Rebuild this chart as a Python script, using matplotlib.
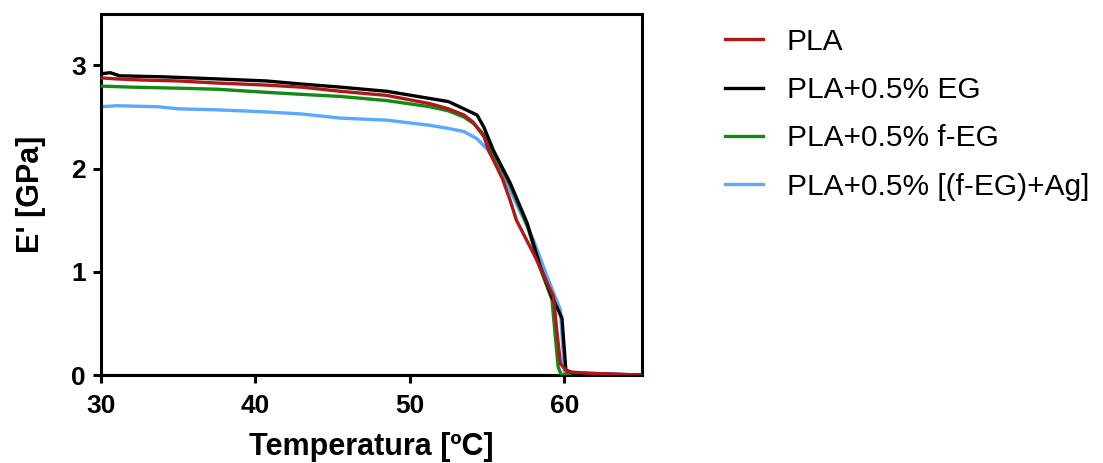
import matplotlib
matplotlib.use('Agg')
import matplotlib.pyplot as plt

plt.rcParams['font.family'] = ['Liberation Sans', 'DejaVu Sans']

# Storage modulus E' [GPa] vs temperature [ºC]
temp_pla = [30, 31, 32.5, 35, 37.5, 40.7, 43, 45.5, 48.5, 51.3, 52.5, 53.5, 54.1, 54.8, 55.1,
            56.0, 56.5, 56.9, 58.1, 59.3, 59.5, 59.75, 60.2, 62, 65]
e_pla = [2.88, 2.87, 2.86, 2.85, 2.83, 2.81, 2.79, 2.75, 2.71, 2.63, 2.58, 2.52, 2.45, 2.31, 2.18,
         1.90, 1.69, 1.50, 1.15, 0.76, 0.45, 0.11, 0.03, 0.015, 0.0]

temp_eg = [30, 30.6, 31.2, 34, 37.5, 40.7, 43, 45.5, 48.5, 51.3, 52.5, 53.5, 54.35, 54.8, 55.4,
           56.5, 57.6, 58.45, 59.2, 59.85, 60.1, 60.5, 62, 65]
e_eg = [2.92, 2.93, 2.90, 2.89, 2.87, 2.85, 2.82, 2.79, 2.75, 2.68, 2.65, 2.58, 2.52, 2.40, 2.18,
        1.86, 1.47, 1.05, 0.76, 0.55, 0.05, 0.02, 0.01, 0.0]

temp_feg = [30, 32, 35, 37.5, 40.7, 43, 45.5, 48.5, 51.3, 52.5, 53.5, 54.1, 54.8, 55.4,
            56.5, 57.6, 58.4, 59.2, 59.6, 59.8, 60.5, 65]
e_feg = [2.80, 2.79, 2.78, 2.77, 2.74, 2.72, 2.70, 2.66, 2.60, 2.56, 2.50, 2.44, 2.33, 2.15,
         1.84, 1.45, 1.05, 0.73, 0.08, 0.0, 0.01, 0.0]

temp_ag = [30, 31, 33.7, 35, 37.5, 40.7, 43, 45.5, 48.5, 51.3, 52.5, 53.5, 54.35, 55.0,
           56.0, 56.9, 58.0, 58.9, 59.75, 60.0, 61, 65]
e_ag = [2.60, 2.61, 2.60, 2.58, 2.57, 2.55, 2.53, 2.49, 2.47, 2.42, 2.39, 2.36, 2.29, 2.19,
        1.95, 1.66, 1.31, 0.95, 0.63, 0.03, 0.02, 0.0]

series = [
    ("PLA", temp_pla, e_pla, "#b01818", 5),
    ("PLA+0.5% EG", temp_eg, e_eg, "#000000", 4),
    ("PLA+0.5% f-EG", temp_feg, e_feg, "#138a13", 3),
    ("PLA+0.5% [(f-EG)+Ag]", temp_ag, e_ag, "#5aa8ff", 2),
]

fig = plt.figure(figsize=(11.03, 4.63), dpi=100)
ax = fig.add_axes([0.0916, 0.19, 0.490, 0.78])

for label, x, y, color, z in series:
    ax.plot(x, y, color=color, linewidth=2.4, label=label, zorder=z)

ax.set_xlim(30, 65)
ax.set_ylim(0, 3.5)
ax.set_xticks([30, 40, 50, 60])
ax.set_yticks([0, 1, 2, 3])

for s in ax.spines.values():
    s.set_linewidth(2.2)
ax.tick_params(direction='out', length=6, width=2.2, labelsize=19, pad=5)
ax.tick_params(axis='x', pad=8)
for lbl in ax.get_xticklabels() + ax.get_yticklabels():
    lbl.set_fontweight('bold')

ax.set_xlabel('Temperatura [ºC]', fontsize=22, fontweight='bold', labelpad=10)
ax.set_ylabel("E' [GPa]", fontsize=22, fontweight='bold', labelpad=18)

ax.legend(loc='upper left', bbox_to_anchor=(0.6466, 0.966), bbox_transform=fig.transFigure,
          frameon=False, fontsize=21.5, handlelength=1.27, handletextpad=0.8,
          labelspacing=0.68, borderaxespad=0)

fig.savefig('out.png', dpi=100)
